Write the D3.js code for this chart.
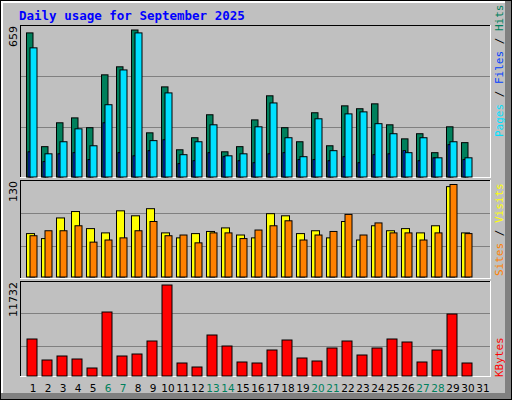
<!DOCTYPE html>
<html>
<head>
<meta charset="utf-8">
<script src="https://cdn.jsdelivr.net/npm/d3@7"></script>
<style>
  body { margin: 0; background: #fff; }
</style>
</head>
<body>
<div id="chart"></div>
<script>
var w = 512;
var h = 400;

// values
var days = d3.range(1, 32);
var weekends = [6, 7, 13, 14, 20, 21, 27, 28];
var hits = [646, 136, 243, 265, 221, 458, 494, 659, 198, 404, 122, 176, 279, 113, 136, 256,
            364, 221, 158, 288, 140, 319, 306, 328, 234, 171, 194, 109, 225, 154];
var files = [579, 104, 158, 216, 140, 324, 480, 646, 163, 377, 100, 158, 234, 95, 104, 225,
             332, 176, 91, 261, 118, 283, 292, 239, 194, 109, 176, 86, 158, 86];
var pages = [113, 69, 104, 109, 78, 243, 109, 95, 118, 167, 60, 73, 109, 91, 73, 64,
             104, 109, 78, 78, 73, 91, 64, 100, 104, 118, 73, 86, 145, 78];
var sites = [61, 54, 83, 92, 68, 62, 93, 86, 96, 62, 55, 61, 64, 69, 59, 55,
             89, 86, 61, 65, 55, 78, 52, 72, 65, 68, 62, 72, 127, 62];
var visits = [58, 65, 65, 72, 49, 52, 55, 65, 78, 58, 59, 48, 62, 62, 54, 66,
              72, 79, 52, 59, 64, 88, 59, 76, 62, 62, 52, 62, 130, 61];
var kbytes = [4770, 2063, 2578, 2191, 1031, 8250, 2578, 2836, 4512, 11732, 1676, 1160, 5285, 3867, 1805, 1676,
              3352, 4641, 2320, 1934, 3609, 4512, 2707, 3609, 4770, 4383, 1805, 3352, 7992, 1676];

var svg = d3.select("#chart").append("svg")
    .attr("width", w)
    .attr("height", h)
    .style("display", "block");

// outer frame with 3D look
svg.append("rect").attr("x", 0).attr("y", 0).attr("width", w).attr("height", h).attr("fill", "#000");
svg.append("rect").attr("x", 1).attr("y", 1).attr("width", w - 2).attr("height", h - 2).attr("fill", "#808080");
svg.append("rect").attr("x", 1).attr("y", 1).attr("width", w - 8).attr("height", h - 8).attr("fill", "#fff");
svg.append("rect").attr("x", 3).attr("y", 3).attr("width", w - 10).attr("height", h - 10).attr("fill", "#C0C0C0");

svg.append("text")
    .attr("x", 19).attr("y", 20)
    .attr("font-family", "DejaVu Sans Mono")
    .attr("font-weight", "bold")
    .attr("font-size", 12.5)
    .attr("fill", "#0000FF")
    .text("Daily usage for September 2025");

var x = d3.scaleLinear().domain([1, 31]).range([26, 476]);

// panels: top, baseline, grid lines, max
var panels = [
    { top: 25, bottom: 178, base: 176.5, maxY: 29.5, grid: [76.5, 127.5], max: 659 },
    { top: 180, bottom: 279, base: 276.5, maxY: 184, grid: [213.5, 246.5], max: 130 },
    { top: 281, bottom: 377, base: 375.5, maxY: 284.5, grid: [313.5, 346.5], max: 11732 }
];

panels.forEach(function(p) {
    svg.append("rect").attr("x", 20).attr("y", p.top).attr("width", 471).attr("height", p.bottom - p.top)
        .attr("fill", "#C0C0C0");
    p.grid.forEach(function(gy) {
        svg.append("line").attr("x1", 21).attr("x2", 490).attr("y1", gy).attr("y2", gy)
            .attr("stroke", "#808080").attr("stroke-width", 1);
    });
    svg.append("line").attr("x1", 20).attr("x2", 491).attr("y1", p.top + 0.5).attr("y2", p.top + 0.5).attr("stroke", "#000");
    svg.append("line").attr("x1", 20.5).attr("x2", 20.5).attr("y1", p.top).attr("y2", p.bottom).attr("stroke", "#000");
    svg.append("line").attr("x1", 20).attr("x2", 491).attr("y1", p.bottom - 0.5).attr("y2", p.bottom - 0.5).attr("stroke", "#fff");
    svg.append("line").attr("x1", 490.5).attr("x2", 490.5).attr("y1", p.top).attr("y2", p.bottom).attr("stroke", "#fff");
    p.y = d3.scaleLinear().domain([0, p.max]).range([p.base, p.maxY]);

    svg.append("text")
        .attr("transform", "translate(17," + (p.top + 1) + ") rotate(-90)")
        .attr("text-anchor", "end")
        .attr("font-family", "DejaVu Sans")
        .attr("font-size", 11)
        .attr("fill", "#000")
        .text(d3.format("")(p.max));
});

function bars(data, panel, dx, bw, color) {
    svg.append("g").selectAll("rect")
        .data(data)
        .enter()
        .append("rect")
        .attr("x", function(d, i) { return x(i + 1) + dx + 0.5; })
        .attr("y", function(d) { return panel.y(d) + 0.5; })
        .attr("width", bw)
        .attr("height", function(d) { return panel.base - panel.y(d); })
        .attr("fill", color)
        .attr("stroke", "#000")
        .attr("stroke-width", 1);
}

bars(hits, panels[0], 0, 6.5, "#00805C");
bars(pages, panels[0], 1.5, 2.5, "#0040FF");
bars(files, panels[0], 3.5, 7, "#00E0FF");
bars(sites, panels[1], 0, 8, "#FFFF00");
bars(visits, panels[1], 3.5, 7, "#FF8000");
bars(kbytes, panels[2], 0.5, 10, "#FF0000");

// day labels
svg.append("g").selectAll("text")
    .data(days)
    .enter()
    .append("text")
    .attr("x", function(d) { return x(d) + 7; })
    .attr("y", 392)
    .attr("text-anchor", "middle")
    .attr("font-family", "DejaVu Sans")
    .attr("font-size", 10.5)
    .attr("fill", function(d) { return weekends.indexOf(d) >= 0 ? "#00805C" : "#000"; })
    .text(function(d) { return d; });

// right side legends
function legend(parts, yEnd) {
    var t = svg.append("text")
        .attr("transform", "translate(503," + yEnd + ") rotate(-90)")
        .attr("font-family", "DejaVu Sans Mono")
        .attr("font-size", 11);
    parts.forEach(function(p) {
        t.append("tspan").attr("fill", p[1]).text(p[0]);
    });
}
legend([["Pages", "#00E0FF"], [" / ", "#000"], ["Files", "#0040FF"], [" / ", "#000"], ["Hits", "#00805C"]], 137);
legend([["Sites", "#FF8000"], [" / ", "#000"], ["Visits", "#FFFF00"]], 276);
legend([["KBytes", "#FF0000"]], 377);
</script>
</body>
</html>
